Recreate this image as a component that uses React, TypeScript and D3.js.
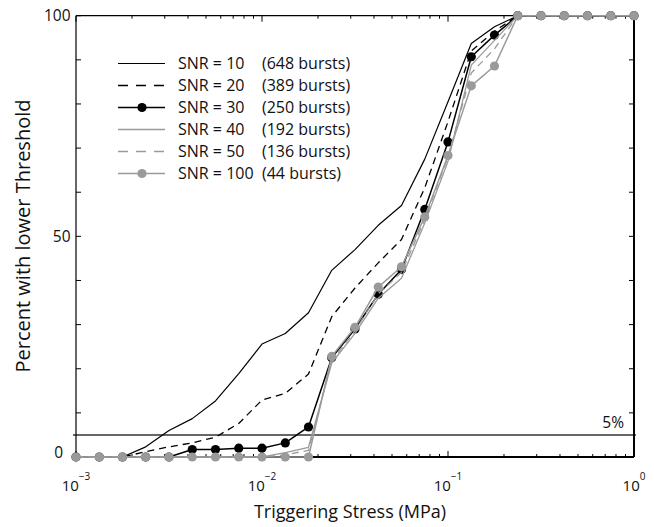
import React from 'react';
import * as d3 from 'd3';

// Triggering stress (MPa) sample points
const stress = [0.001, 0.001334, 0.001778, 0.002371, 0.003162, 0.004217, 0.005623, 0.007499, 0.01,
  0.01334, 0.01778, 0.02371, 0.03162, 0.04217, 0.05623, 0.07499, 0.1,
  0.1334, 0.1778, 0.2371, 0.3162, 0.4217, 0.5623, 0.7499, 1.0];

// Percent with lower threshold for each SNR
const snr10 = [0, 0, 0, 2.3, 6.0, 8.7, 12.7, 18.9, 25.6, 28.0, 32.7, 42.3, 47.0, 52.5, 57.0, 67.5, 80.5, 93.7, 97.5, 100, 100, 100, 100, 100, 100];
const snr20 = [0, 0, 0, 1.2, 2.3, 3.2, 4.5, 7.6, 12.9, 14.4, 18.8, 31.8, 38.3, 44.0, 49.3, 61.0, 76.0, 92.0, 96.5, 100, 100, 100, 100, 100, 100];
const snr30 = [0, 0, 0, 0, 0, 1.7, 1.7, 2.0, 2.0, 3.2, 6.8, 22.5, 29.0, 36.9, 42.5, 56.1, 71.4, 90.7, 95.6, 100, 100, 100, 100, 100, 100];
const snr40 = [0, 0, 0, 0, 0, 0, 0, 0, 0, 1.0, 2.2, 21.3, 28.0, 36.0, 40.5, 53.0, 67.0, 88.8, 94.4, 100, 100, 100, 100, 100, 100];
const snr50 = [0, 0, 0, 0, 0, 0, 0, 0, 0, 0.5, 1.5, 21.8, 28.6, 37.0, 41.8, 53.8, 68.0, 87.0, 92.5, 100, 100, 100, 100, 100, 100];
const snr100 = [0, 0, 0, 0, 0, 0, 0, 0, 0, 0, 0, 22.8, 29.4, 38.5, 43.1, 54.4, 68.3, 84.1, 88.6, 100, 100, 100, 100, 100, 100];

const snrLabels = ['SNR = 10', 'SNR = 20', 'SNR = 30', 'SNR = 40', 'SNR = 50', 'SNR = 100'];
const burstLabels = ['(648 bursts)', '(389 bursts)', '(250 bursts)', '(192 bursts)', '(136 bursts)', '(44 bursts)'];

const xTickValues = [0.001, 0.01, 0.1, 1];
const xTickExps = ['\u22123', '\u22122', '\u22121', '0'];
const yTickLabels = [0, 50, 100];
const thresholdPct = 5;

const W = 654, H = 527;
const L = 76, R = 634, T = 15.7, B = 457;
const FONT = '"Open Sans", "Noto Sans", sans-serif';
const GRAY = '#9a9a9a';

type Style = { color: string; width: number; dash?: string; dots?: boolean };
const styles: Style[] = [
  { color: '#000', width: 1.2 },
  { color: '#000', width: 1.3, dash: '7,5' },
  { color: '#000', width: 1.5, dots: true },
  { color: GRAY, width: 1.3 },
  { color: GRAY, width: 1.3, dash: '7,5' },
  { color: GRAY, width: 1.5, dots: true },
];

export default function App() {
  const x = d3.scaleLog().domain([0.001, 1]).range([L, R]);
  const y = d3.scaleLinear().domain([0, 100]).range([B, T]);
  const series = [snr10, snr20, snr30, snr40, snr50, snr100];
  const line = d3.line<number>().x((_, i) => x(stress[i])).y(d => y(d));

  const xTicks = x.ticks();
  const yTicks = d3.range(0, 101, 10);

  const legX0 = 118, legX1 = 165, legY0 = 63.5, legDy = 22;

  return (
    <svg width={W} height={H} style={{ position: 'absolute', left: 0, top: 0, background: '#fff' }} fontFamily={FONT}>
      <rect x={0} y={0} width={W} height={H} fill="#fff" />
      {/* threshold line */}
      <line x1={L - 3} x2={R + 2} y1={y(thresholdPct)} y2={y(thresholdPct)} stroke="#333" strokeWidth={1.4} />
      <text x={624} y={428} fontSize={15.5} textAnchor="end" fill="#111">5%</text>

      {/* frame */}
      <line x1={L} x2={R} y1={T} y2={T} stroke="#000" strokeWidth={1.2} />
      <line x1={L} x2={R} y1={B} y2={B} stroke="#000" strokeWidth={2} />
      <line x1={L} x2={L} y1={T} y2={B} stroke="#000" strokeWidth={1.2} />
      <line x1={R} x2={R} y1={T} y2={B} stroke="#000" strokeWidth={2} />

      {/* x ticks */}
      {xTicks.map((t, i) => {
        const major = Math.abs(Math.log10(t) - Math.round(Math.log10(t))) < 1e-6;
        const len = major ? 6 : 3;
        return (
          <g key={'xt' + i}>
            <line x1={x(t)} x2={x(t)} y1={B} y2={B - len} stroke="#000" strokeWidth={1} />
            <line x1={x(t)} x2={x(t)} y1={T} y2={T + len} stroke="#000" strokeWidth={1} />
          </g>
        );
      })}
      {/* y ticks */}
      {yTicks.map((t, i) => (
        <g key={'yt' + i}>
          <line x1={L} x2={L + 5} y1={y(t)} y2={y(t)} stroke="#000" strokeWidth={1} />
          <line x1={R} x2={R - 5} y1={y(t)} y2={y(t)} stroke="#000" strokeWidth={1} />
        </g>
      ))}

      {/* tick labels */}
      {xTickValues.map((v, i) => (
        <text key={'xl' + i} x={x(v)} y={491} fontSize={15} textAnchor="middle" fill="#111">
          10<tspan dy={-11} fontSize={10}>{xTickExps[i]}</tspan>
        </text>
      ))}
      {yTickLabels.map((v, i) => (
        <text key={'yl' + i} x={v === 0 ? 63 : 70.5} y={v === 0 ? y(v) - 4 : y(v)} dy="0.35em" fontSize={15.5} textAnchor="end" fill="#111">{v}</text>
      ))}

      {/* axis titles */}
      <text x={350} y={518} fontSize={18} textAnchor="middle" fill="#111">Triggering Stress (MPa)</text>
      <text transform={`translate(30,${236}) rotate(-90)`} fontSize={20} textAnchor="middle" fill="#111">Percent with lower Threshold</text>

      {/* series */}
      {series.map((s, si) => {
        const st = styles[si];
        return (
          <g key={'s' + si}>
            <path d={line(s) || ''} fill="none" stroke={st.color} strokeWidth={st.width} strokeDasharray={st.dash} strokeLinejoin="round" />
            {st.dots && s.map((v, i) => (
              <circle key={i} cx={x(stress[i])} cy={y(v)} r={4.6} fill={st.color} />
            ))}
          </g>
        );
      })}

      {/* legend */}
      {snrLabels.map((lab, i) => {
        const st = styles[i];
        const yy = legY0 + i * legDy;
        return (
          <g key={'lg' + i}>
            <line x1={legX0} x2={legX1} y1={yy} y2={yy} stroke={st.color} strokeWidth={st.width} strokeDasharray={st.dash ? '10,8' : undefined} />
            {st.dots && <circle cx={(legX0 + legX1) / 2 + 0.5} cy={yy} r={4.6} fill={st.color} />}
            <text x={178} y={yy} dy="0.35em" fontSize={16} fill="#111">{lab}</text>
            <text x={262} y={yy} dy="0.35em" fontSize={16} fill="#111">{burstLabels[i]}</text>
          </g>
        );
      })}
    </svg>
  );
}
